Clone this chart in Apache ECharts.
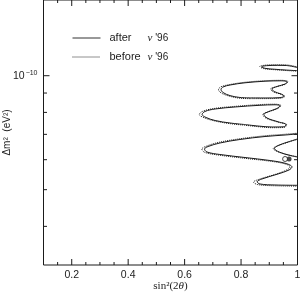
<!DOCTYPE html>
<html><head><meta charset="utf-8">
<script src="https://cdn.jsdelivr.net/npm/echarts@6/dist/echarts.min.js"></script>
<style>html,body{margin:0;padding:0;background:#fff}#c{width:300px;height:292px}</style>
</head><body><div id="c"></div>
<script>
const X_MIN = 0.1, X_MAX = 1.0;
const Y_MIN = Math.pow(10, -10.5), Y_MAX = Math.pow(10, -9.8);
const xMajorTicks = [0.2, 0.4, 0.6, 0.8, 1.0];
const xMinorTicks = [0.15, 0.25, 0.3, 0.35, 0.45, 0.5, 0.55, 0.65, 0.7, 0.75, 0.85, 0.9, 0.95];
const yMajorTicks = [1e-10];
const yMinorTicks = [4e-11, 5e-11, 6e-11, 7e-11, 8e-11, 9e-11];

// contours: [sin^2(2θ), Δm² (eV²)]
const afterLoop1 = [[1.0,10.51e-11],[0.96,10.64e-11],[0.93,10.65e-11],[0.89,10.63e-11],[0.873,10.56e-11],[0.885,10.46e-11],[0.92,10.40e-11],[0.96,10.35e-11],[1.0,10.31e-11]];
const afterLoop2 = [[0.832,8.74e-11],[0.796,8.76e-11],[0.761,8.86e-11],[0.736,9.03e-11],[0.729,9.196e-11],[0.736,9.336e-11],[0.761,9.45e-11],[0.814,9.579e-11],[0.885,9.671e-11],[0.942,9.695e-11],[0.963,9.637e-11],[0.956,9.508e-11],[0.927,9.364e-11],[0.910,9.224e-11],[0.917,9.084e-11],[0.942,8.947e-11],[0.952,8.839e-11],[0.938,8.75e-11],[0.885,8.733e-11],[0.832,8.74e-11]];
const afterLoop3 = [[0.814,7.43e-11],[0.761,7.50e-11],[0.708,7.615e-11],[0.676,7.757e-11],[0.662,7.90e-11],[0.672,8.045e-11],[0.708,8.168e-11],[0.779,8.268e-11],[0.867,8.354e-11],[0.920,8.38e-11],[0.938,8.33e-11],[0.927,8.193e-11],[0.899,8.045e-11],[0.881,7.90e-11],[0.892,7.733e-11],[0.931,7.556e-11],[0.959,7.432e-11],[0.952,7.329e-11],[0.910,7.32e-11],[0.860,7.364e-11],[0.814,7.43e-11]];
const afterLoop4 = [[1.0,7.02e-11],[0.956,6.972e-11],[0.885,6.909e-11],[0.796,6.785e-11],[0.725,6.641e-11],[0.683,6.50e-11],[0.6705,6.403e-11],[0.679,6.288e-11],[0.725,6.193e-11],[0.814,6.08e-11],[0.903,5.97e-11],[0.959,5.864e-11],[0.9805,5.741e-11],[0.970,5.636e-11],[0.931,5.501e-11],[0.874,5.336e-11],[0.857,5.245e-11],[0.867,5.176e-11],[0.920,5.145e-11],[1.0,5.135e-11]];
const afterNotch = [[1.0,6.805e-11],[0.966,6.682e-11],[0.931,6.54e-11],[0.9185,6.423e-11],[0.9345,6.288e-11],[0.9735,6.156e-11],[1.0,6.10e-11]];

const beforeLoop1 = [[1.0,10.55e-11],[0.96,10.68e-11],[0.93,10.69e-11],[0.89,10.67e-11],[0.866,10.57e-11],[0.88,10.44e-11],[0.92,10.37e-11],[0.96,10.32e-11],[1.0,10.28e-11]];
const beforeLoop2 = [[0.832,8.70e-11],[0.796,8.72e-11],[0.761,8.82e-11],[0.730,9.00e-11],[0.720,9.19e-11],[0.729,9.35e-11],[0.761,9.48e-11],[0.814,9.61e-11],[0.885,9.70e-11],[0.942,9.725e-11],[0.966,9.645e-11],[0.958,9.50e-11],[0.927,9.36e-11],[0.905,9.224e-11],[0.9135,9.07e-11],[0.942,8.93e-11],[0.955,8.82e-11],[0.938,8.72e-11],[0.885,8.70e-11],[0.832,8.70e-11]];
const beforeLoop3 = [[0.814,7.40e-11],[0.761,7.47e-11],[0.708,7.59e-11],[0.670,7.74e-11],[0.652,7.90e-11],[0.665,8.06e-11],[0.708,8.20e-11],[0.779,8.30e-11],[0.867,8.39e-11],[0.920,8.41e-11],[0.941,8.34e-11],[0.930,8.19e-11],[0.899,8.04e-11],[0.877,7.90e-11],[0.889,7.72e-11],[0.931,7.54e-11],[0.962,7.42e-11],[0.953,7.30e-11],[0.910,7.29e-11],[0.860,7.335e-11],[0.814,7.40e-11]];
const beforeLoop4 = [[1.0,7.05e-11],[0.956,7.005e-11],[0.885,6.94e-11],[0.796,6.815e-11],[0.720,6.665e-11],[0.676,6.51e-11],[0.661,6.40e-11],[0.672,6.27e-11],[0.725,6.165e-11],[0.814,6.05e-11],[0.903,5.945e-11],[0.955,5.85e-11],[0.974,5.741e-11],[0.962,5.64e-11],[0.925,5.50e-11],[0.865,5.33e-11],[0.844,5.235e-11],[0.860,5.155e-11],[0.920,5.12e-11],[1.0,5.11e-11]];
const beforeNotch = [[1.0,6.79e-11],[0.966,6.67e-11],[0.931,6.53e-11],[0.914,6.423e-11],[0.930,6.30e-11],[0.9735,6.166e-11],[1.0,6.11e-11]];

const bestFitAfter = [[0.970, 6.026e-11]];
const bestFitBefore = [[0.956, 6.026e-11]];

const INK = '#1a1a1a';
function contour(name, data, dotted) {
  return { type: 'line', name: name, data: data, smooth: 0.35, symbol: 'none', clip: true,
    color: INK, lineStyle: { color: INK, width: 1, type: dotted ? 'dotted' : 'solid' }, z: dotted ? 3 : 4, animation: false };
}
const xTickData = xMajorTicks.map(v => [v, Y_MIN, 1]).concat(xMinorTicks.map(v => [v, Y_MIN, 0]));
const yTickData = yMajorTicks.map(v => [X_MIN, v, 1]).concat(yMinorTicks.map(v => [X_MIN, v, 0]));

const chart = echarts.init(document.getElementById('c'), null, { renderer: 'canvas' });
chart.setOption({
  backgroundColor: '#fff',
  animation: false,
  grid: { left: 43.5, right: 2.5, top: 0, bottom: 27, containLabel: false, outerBoundsMode: 'none', show: true, borderColor: INK, borderWidth: 1, backgroundColor: 'transparent' },
  legend: {
    data: [
      { name: 'after', lineStyle: { type: 'solid', width: 1, color: '#333' } },
      { name: 'before', lineStyle: { type: 'dotted', width: 1, color: '#222' } }
    ],
    orient: 'vertical', left: 67, top: 27, itemWidth: 28, itemHeight: 10, itemGap: 7,
    itemStyle: { opacity: 0 },
    lineStyle: { width: 1 },
    formatter: n => '{s|}{a|' + n + '}{n|ν}{b| \'96}',
    textStyle: { color: '#222', rich: {
      s: { width: 4 },
      a: { width: 38, fontSize: 11, fontFamily: 'Liberation Sans', color: '#222' },
      n: { fontSize: 11, fontFamily: 'Liberation Serif', fontStyle: 'italic', color: '#222' },
      b: { fontSize: 10, fontFamily: 'Liberation Sans', color: '#222' }
    } }
  },
  xAxis: {
    type: 'value', min: X_MIN, max: X_MAX, interval: 0.1,
    axisLine: { show: false }, axisTick: { show: false }, splitLine: { show: false },
    axisLabel: { color: '#222', fontSize: 10.5, fontFamily: 'Liberation Sans', margin: 5,
      formatter: v => { const k = Math.round(v * 10); if (k % 2 !== 0) return ''; return k === 10 ? '1' : (k / 10).toFixed(1); } },
    name: '{r|sin²(2}{i|θ}{r|)}', nameLocation: 'middle', nameGap: 16, nameMoveOverlap: false,
    nameTextStyle: { rich: { r: { fontSize: 11, fontFamily: 'Liberation Serif', color: '#222' }, i: { fontSize: 11, fontFamily: 'Liberation Serif', fontStyle: 'italic', color: '#222' } } }
  },
  yAxis: {
    type: 'log', logBase: 10, min: Y_MIN, max: Y_MAX,
    axisLine: { show: false }, axisTick: { show: false }, splitLine: { show: false }, minorTick: { show: false },
    axisLabel: { color: '#222', margin: 6, showMinLabel: false, showMaxLabel: false,
      formatter: v => Math.abs(Math.log10(v) + 10) < 1e-6 ? '{b|10}{sup|−10}' : '',
      rich: { b: { fontSize: 10.5, fontFamily: 'Liberation Sans', color: '#222', lineHeight: 12 }, sup: { fontSize: 7, fontFamily: 'Liberation Sans', color: '#222', verticalAlign: 'top', lineHeight: 12, padding: [0, 0, 4, 1] } } },
    name: 'Δm²  (eV²)', nameLocation: 'middle', nameGap: 31, nameMoveOverlap: false,
    nameTextStyle: { fontSize: 10, fontFamily: 'Liberation Sans', color: '#222' }
  },
  series: [
    contour('after', afterLoop1, false), contour('after', afterLoop2, false), contour('after', afterLoop3, false),
    contour('after', afterLoop4, false), contour('after', afterNotch, false),
    contour('before', beforeLoop1, true), contour('before', beforeLoop2, true), contour('before', beforeLoop3, true),
    contour('before', beforeLoop4, true), contour('before', beforeNotch, true),
    { type: 'scatter', name: 'fitAfter', data: bestFitAfter, symbol: 'circle', symbolSize: 5, itemStyle: { color: INK }, z: 5 },
    { type: 'scatter', name: 'fitBefore', data: bestFitBefore, symbol: 'circle', symbolSize: 5, itemStyle: { color: '#fff', borderColor: INK, borderWidth: 1 }, z: 5 },
    { type: 'custom', name: 'xticks', coordinateSystem: 'cartesian2d', silent: true, clip: false, z: 6, data: xTickData,
      encode: { x: 0, y: 1 },
      renderItem: (params, api) => {
        const v = api.value(0), len = api.value(2) ? 6 : 3;
        const b = api.coord([v, Y_MIN]), t = api.coord([v, Y_MAX]);
        return { type: 'group', children: [
          { type: 'line', shape: { x1: b[0], y1: b[1], x2: b[0], y2: b[1] - len }, style: { stroke: INK, lineWidth: 1 } },
          { type: 'line', shape: { x1: t[0], y1: t[1], x2: t[0], y2: t[1] + len }, style: { stroke: INK, lineWidth: 1 } }
        ] };
      } },
    { type: 'custom', name: 'yticks', coordinateSystem: 'cartesian2d', silent: true, clip: false, z: 6, data: yTickData,
      encode: { x: 0, y: 1 },
      renderItem: (params, api) => {
        const v = api.value(1), len = api.value(2) ? 6 : 3.5;
        const l = api.coord([X_MIN, v]), r = api.coord([X_MAX, v]);
        return { type: 'group', children: [
          { type: 'line', shape: { x1: l[0], y1: l[1], x2: l[0] + len, y2: l[1] }, style: { stroke: INK, lineWidth: 1 } },
          { type: 'line', shape: { x1: r[0], y1: r[1], x2: r[0] - len, y2: r[1] }, style: { stroke: INK, lineWidth: 1 } }
        ] };
      } }
  ]
});
</script></body></html>
